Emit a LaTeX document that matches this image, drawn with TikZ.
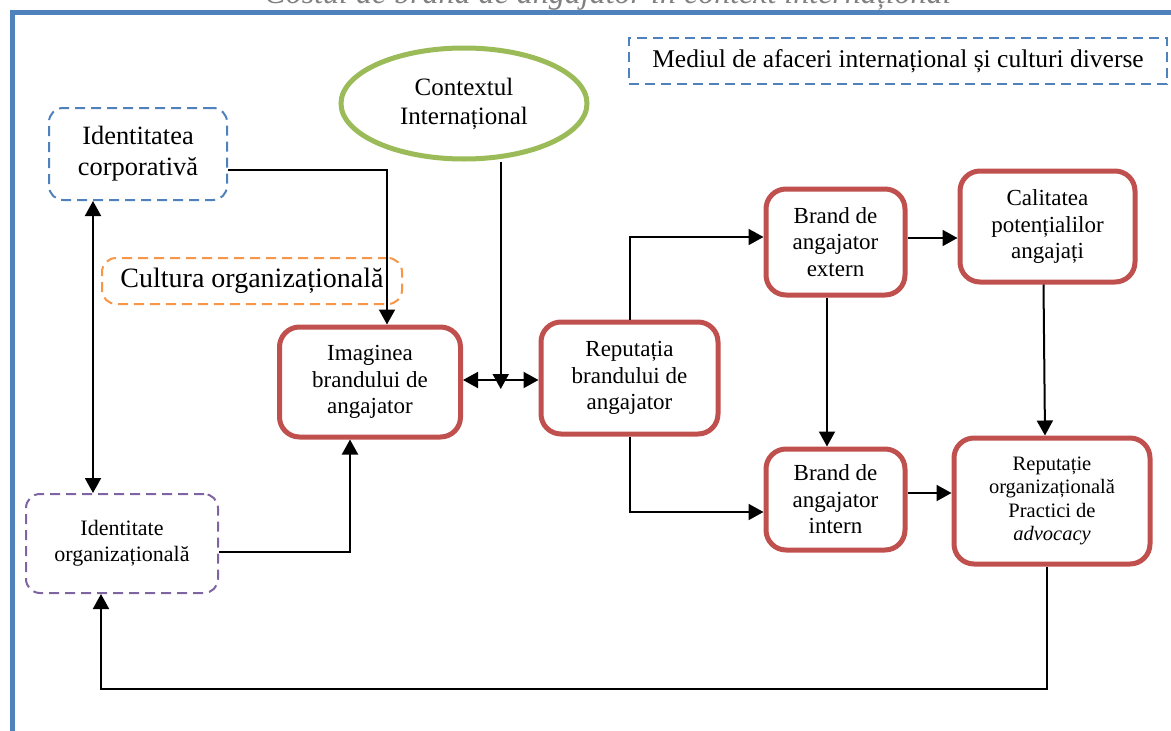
\documentclass[tikz,border=0pt]{standalone}
\usepackage{fontspec}
\setmainfont{Liberation Serif}
\usepackage{xcolor}
\usepackage{tikz}
\usetikzlibrary{arrows.meta,positioning,calc,shapes.geometric}
\definecolor{frameblue}{HTML}{4F81BD}
\definecolor{brandred}{HTML}{C0504D}
\definecolor{ctxgreen}{HTML}{9BBB59}
\definecolor{cultorange}{HTML}{F79646}
\definecolor{orgpurple}{HTML}{8064A2}
\tikzset{
  brandbox/.style ={draw=brandred, line width=5pt, rounded corners=20pt, align=center, fill=white, inner sep=2pt, font=\fontsize{23}{26.5}\selectfont},
  dashbox/.style  ={draw, line width=2pt, dash pattern=on 10pt off 6pt, rounded corners=14pt, align=center, inner sep=2pt},
  ctxell/.style   ={ellipse, draw=ctxgreen, line width=5pt, align=center, inner sep=0pt, font=\fontsize{25}{29}\selectfont},
  arr/.style      ={-{Triangle[length=15pt,width=16pt]}, line width=2pt},
  darr/.style     ={{Triangle[length=15pt,width=16pt]}-{Triangle[length=15pt,width=16pt]}, line width=2pt},
}

\begin{document}
\begin{tikzpicture}[x=1pt, y=-1pt]
  \useasboundingbox (0,0) rectangle (1171,731);
  % title, cut by the page
  \begin{scope}
    \clip (0,0) rectangle (1171,731);
    \node[anchor=base, text=gray, font=\fontsize{32}{36}\selectfont\itshape] (title) at (608,3) {Costul de brand de angajator în context internațional};
  \end{scope}
  \draw[frameblue, line width=5pt] (1171,12) -- (12,12) -- (12,731);

  % context
  \node[dashbox, draw=frameblue, rounded corners=0pt, minimum width=538pt, minimum height=46pt, font=\fontsize{25.5}{29}\selectfont] (med) at (898,61) {Mediul de afaceri internațional și culturi diverse};
  \node[ctxell, minimum width=246pt, minimum height=111pt] (ctx) at (464,103.5) {Contextul\\Internațional};

  % identity side
  \node[dashbox, draw=frameblue, minimum width=178pt, minimum height=92pt, font=\fontsize{26.4}{31}\selectfont] (idc) at (138,154) {Identitatea\\corporativă};
  \node[dashbox, draw=cultorange, minimum width=300pt, minimum height=46pt, font=\fontsize{28}{32}\selectfont] (cult) at (252,281) {Cultura organizațională};
  \node[dashbox, draw=orgpurple, minimum width=192pt, minimum height=99pt, font=\fontsize{22}{26}\selectfont] (ido) at (122,543.5) {Identitate\\organizațională};

  % brand boxes
  \node[brandbox, minimum width=181pt, minimum height=110pt] (img) at (370,382) {Imaginea\\brandului de\\angajator};
  \node[brandbox, minimum width=177pt, minimum height=112pt] (rep) at (629.5,378) {Reputația\\brandului de\\angajator};
  \node[brandbox, minimum width=139pt, minimum height=106pt] (ext) at (835.5,242) {Brand de\\angajator\\extern};
  \node[brandbox, minimum width=175pt, minimum height=111pt] (cal) at (1047.5,226.5) {Calitatea\\potențialilor\\angajați};
  \node[brandbox, minimum width=139pt, minimum height=101pt] (int) at (835.5,499.5) {Brand de\\angajator\\intern};
  \node[brandbox, minimum width=196pt, minimum height=126pt, font=\fontsize{20.5}{23.5}\selectfont] (repo) at (1052,501) {Reputație\\organizațională\\Practici de\\\textit{advocacy}};

  \coordinate (mid) at ($(img.east)!0.5!(rep.west)$);

  \draw[arr] ([yshift=-16pt]idc.east) -| ([xshift=17pt]img.north);
  \draw[darr] ([xshift=-45pt]idc.south) -- ([xshift=-29pt]ido.north);
  \draw[arr] ([yshift=-8.5pt]ido.east) -| ([xshift=-20pt]img.south);
  \draw[darr] (img.east |- mid) -- (rep.west |- mid);
  \draw[arr] (mid |- ctx.south) -- ([yshift=-9pt]mid);
  \draw[arr] (rep.north) |- ([yshift=5pt]ext.west);
  \draw[arr] (rep.south) |- ([yshift=-12.5pt]int.west);
  \draw[arr] ([yshift=4pt]ext.east) -- ([yshift=4pt]ext.east -| cal.west);
  \draw[arr] ([xshift=-8.5pt]ext.south) -- ([xshift=-8.5pt]int.north);
  \draw[arr] ([xshift=-4pt]cal.south) -- ([xshift=-7pt]repo.north);
  \draw[arr] ([yshift=6.5pt]int.east) -- ([yshift=6.5pt]int.east -| repo.west);
  \draw[arr] ([xshift=-5pt]repo.south) -- ++(0,122) -| ([xshift=-21pt]ido.south);
\end{tikzpicture}
\end{document}
